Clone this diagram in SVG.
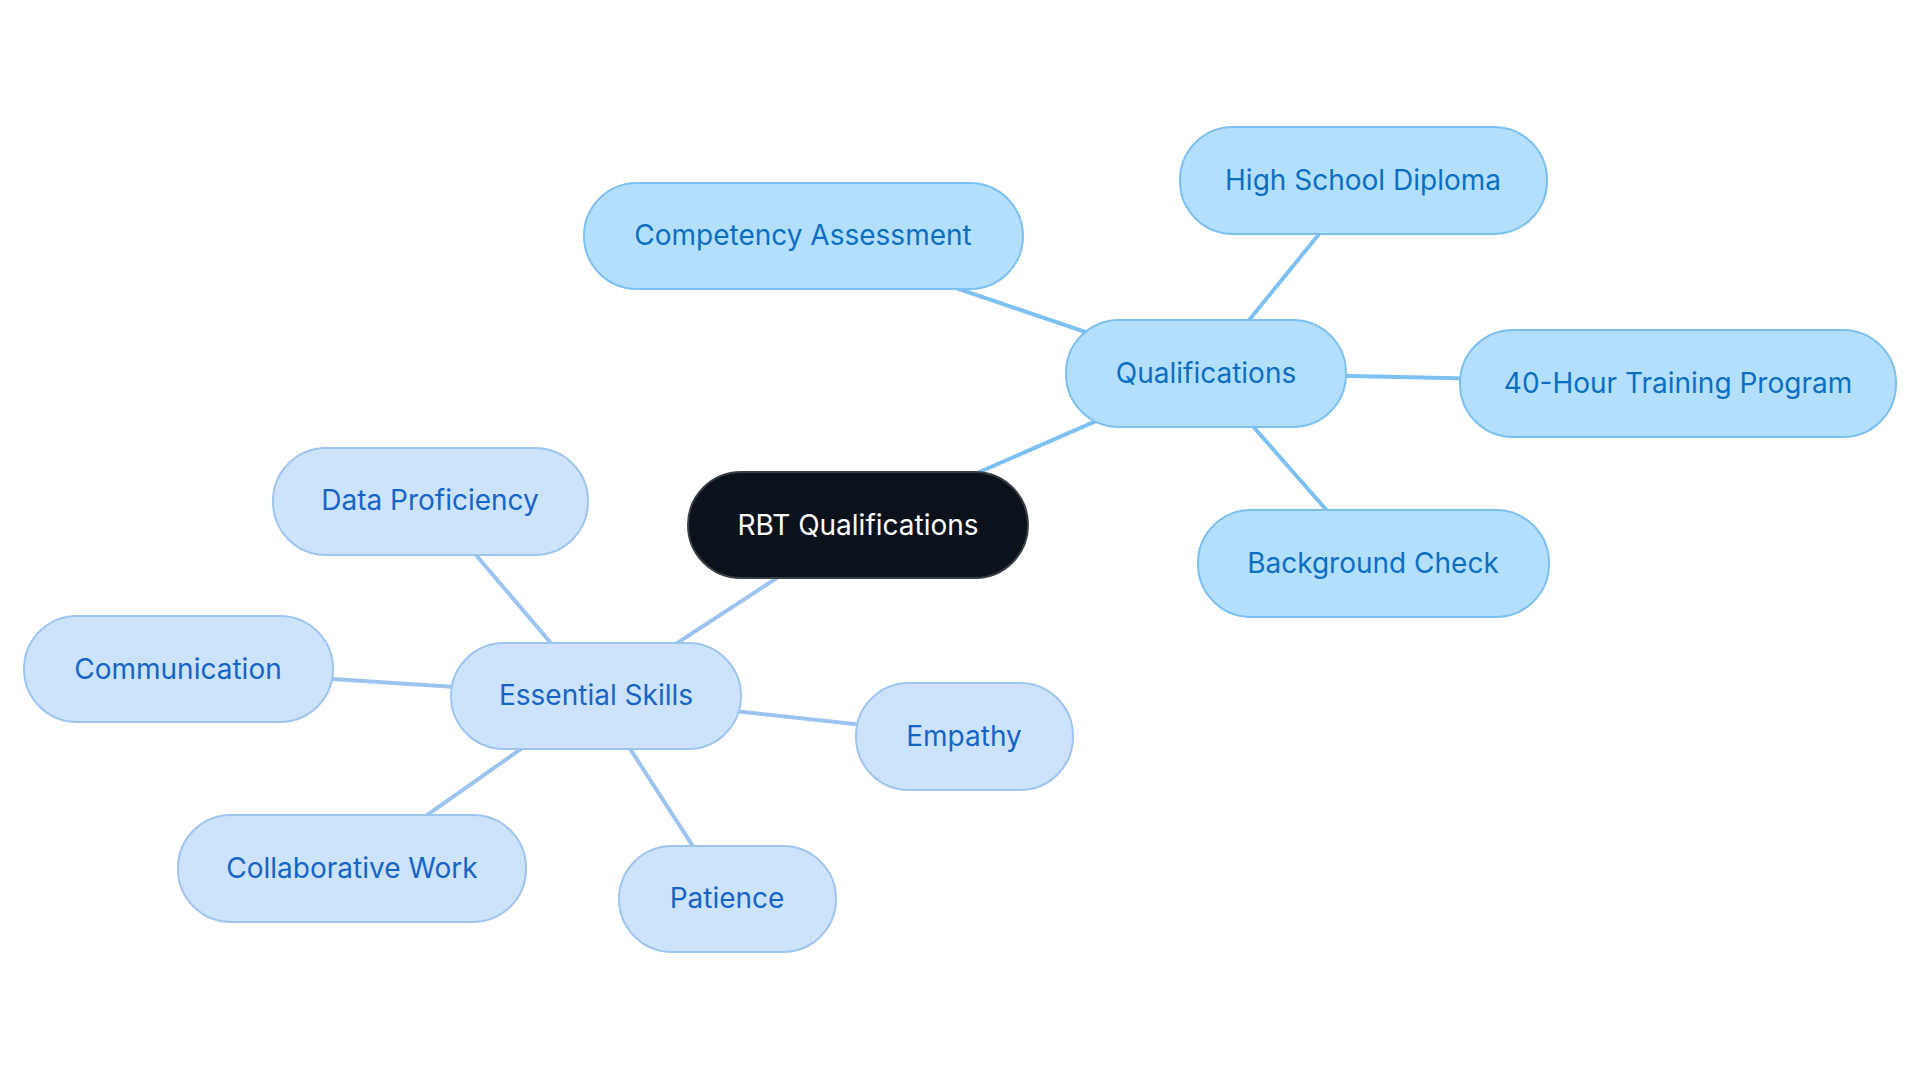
<svg xmlns="http://www.w3.org/2000/svg" width="1920" height="1083" viewBox="0 0 1920 1083">
<style>
text{font-family:Inter,"Noto Sans","Liberation Sans",sans-serif;font-size:28px;text-anchor:middle}
.q rect{fill:#b3dffd;stroke:#7cc0f2;stroke-width:2}
.q text{fill:#0a6fc2}
.s rect{fill:#cce3fb;stroke:#9ec5f0;stroke-width:2}
.s text{fill:#1565c8}
.cq{stroke:#7dc1f3;stroke-width:4;fill:none}
.cs{stroke:#9cc4f0;stroke-width:4;fill:none}
</style>
<rect width="1920" height="1083" fill="#ffffff"/>
<g id="connectors">
<line class="cq" x1="858" y1="525" x2="1206" y2="373"/>
<line class="cq" x1="1206" y1="373" x2="803" y2="236"/>
<line class="cq" x1="1206" y1="373" x2="1363" y2="180"/>
<line class="cq" x1="1206" y1="373" x2="1678" y2="383"/>
<line class="cq" x1="1206" y1="373" x2="1373" y2="563"/>
<line class="cs" x1="858" y1="525" x2="596" y2="696"/>
<line class="cs" x1="596" y1="696" x2="430" y2="501"/>
<line class="cs" x1="596" y1="696" x2="178" y2="669"/>
<line class="cs" x1="596" y1="696" x2="352" y2="868"/>
<line class="cs" x1="596" y1="696" x2="727" y2="899"/>
<line class="cs" x1="596" y1="696" x2="964" y2="736"/>
</g>
<g id="root">
<rect x="688" y="472" width="340" height="106" rx="53" fill="#0c121b" stroke="#3a3f45" stroke-width="2"/>
<text x="858" y="535" fill="#ffffff">RBT Qualifications</text>
</g>
<g id="qualifications" class="q">
<rect x="1066" y="320" width="280" height="107" rx="53"/>
<text x="1206" y="383">Qualifications</text>
</g>
<g id="competency" class="q">
<rect x="584" y="183" width="439" height="106" rx="53"/>
<text x="803" y="245">Competency Assessment</text>
</g>
<g id="diploma" class="q">
<rect x="1180" y="127" width="367" height="107" rx="53"/>
<text x="1363" y="190">High School Diploma</text>
</g>
<g id="training" class="q">
<rect x="1460" y="330" width="436" height="107" rx="53"/>
<text x="1678" y="393">40-Hour Training Program</text>
</g>
<g id="background" class="q">
<rect x="1198" y="510" width="351" height="107" rx="53"/>
<text x="1373" y="573">Background Check</text>
</g>
<g id="skills" class="s">
<rect x="451" y="643" width="290" height="106" rx="53"/>
<text x="596" y="705">Essential Skills</text>
</g>
<g id="data" class="s">
<rect x="273" y="448" width="315" height="107" rx="53"/>
<text x="430" y="510">Data Proficiency</text>
</g>
<g id="communication" class="s">
<rect x="24" y="616" width="309" height="106" rx="53"/>
<text x="178" y="679">Communication</text>
</g>
<g id="collaborative" class="s">
<rect x="178" y="815" width="348" height="107" rx="53"/>
<text x="352" y="878">Collaborative Work</text>
</g>
<g id="patience" class="s">
<rect x="619" y="846" width="217" height="106" rx="53"/>
<text x="727" y="908">Patience</text>
</g>
<g id="empathy" class="s">
<rect x="856" y="683" width="217" height="107" rx="53"/>
<text x="964" y="746">Empathy</text>
</g>
</svg>
